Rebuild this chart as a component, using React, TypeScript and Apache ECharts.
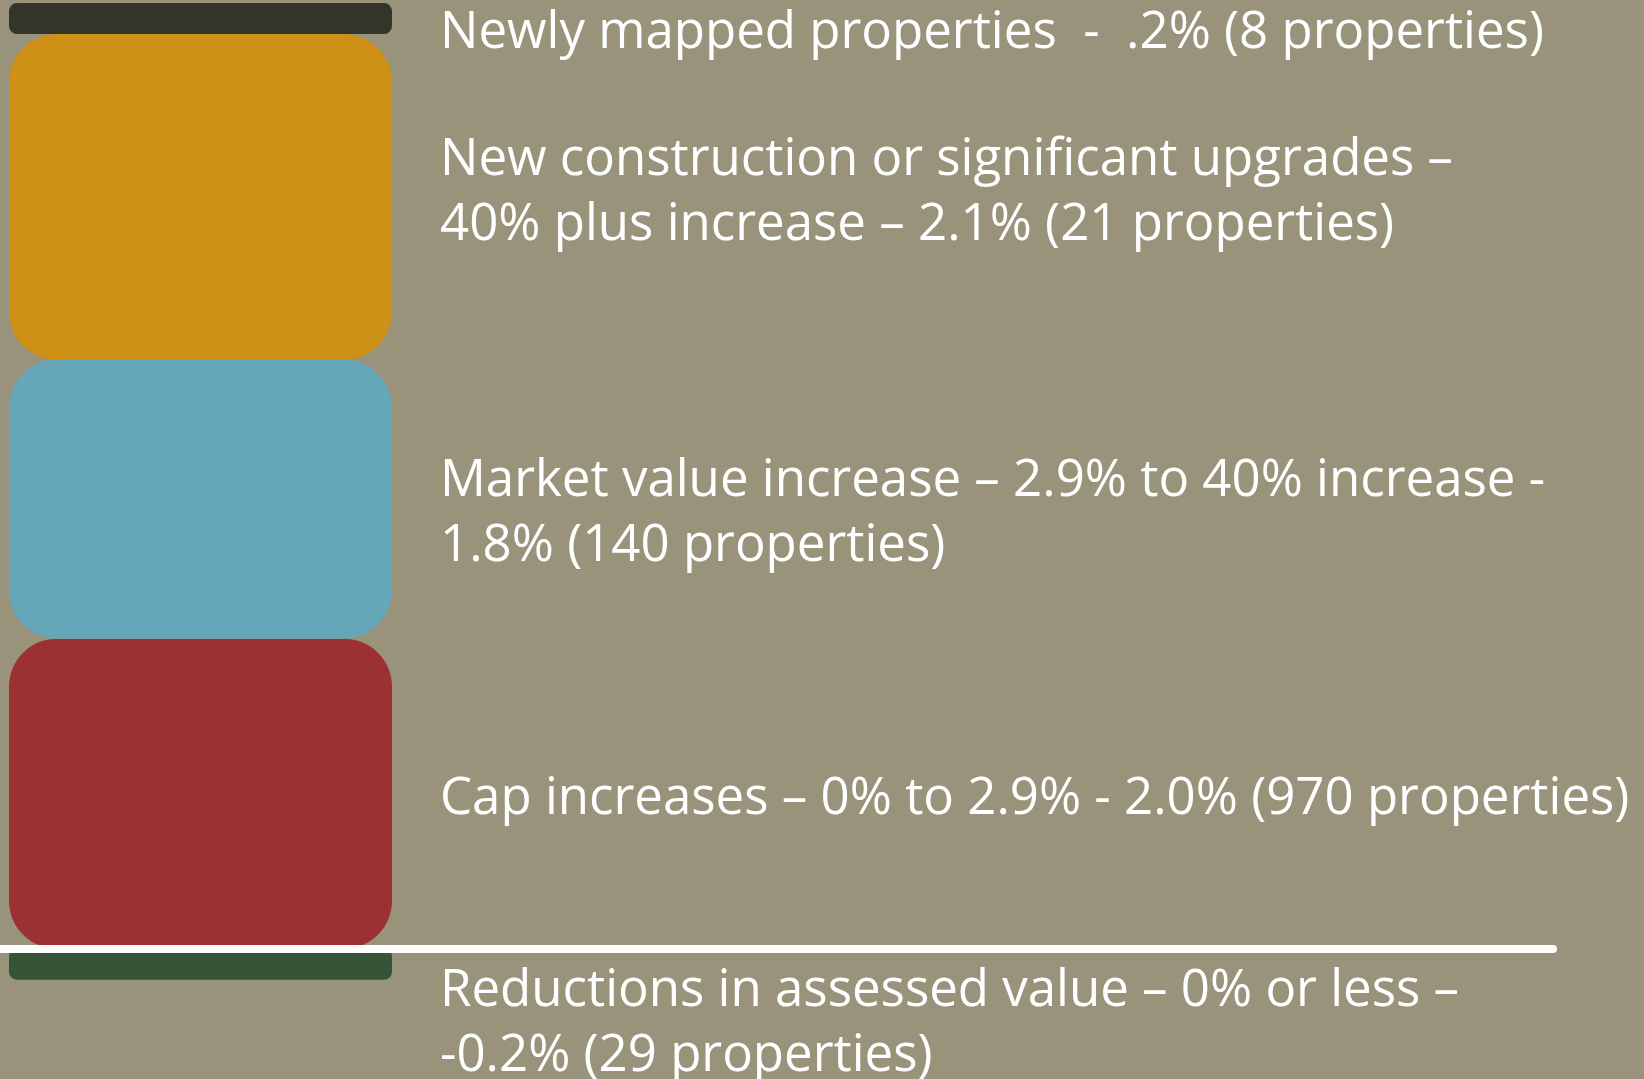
import React, { useEffect, useRef } from "react";
import * as echarts from "echarts";

// Segments of the stacked bar, bottom to top (positive), then the negative one
const segmentNames = [
  "Cap increases",
  "Market value increase",
  "New construction or significant upgrades",
  "Newly mapped properties",
  "Reductions in assessed value",
];
const percentChange = [2.0, 1.8, 2.1, 0.2, -0.2];
const propertyCounts = [970, 140, 21, 8, 29];
const segmentLabels = [
  "Cap increases – 0% to 2.9% - 2.0% (970 properties)",
  "Market value increase – 2.9% to 40% increase -\n1.8% (140 properties)",
  "New construction or significant upgrades –\n40% plus increase – 2.1% (21 properties)",
  "Newly mapped properties  -  .2% (8 properties)",
  "Reductions in assessed value – 0% or less –\n-0.2% (29 properties)",
];
const segmentColors = ["#9c3133", "#65a7b9", "#ce9015", "#33352b", "#365538"];
const segmentRadius = [48, 48, 48, 8, 8];
const labelOffsets = [
  [0, 0],
  [0, 9],
  [0, -9],
  [0, 9],
  [0, 54],
];
const labelLineHeights = [48, 65, 65, 46, 65];

const Y_MIN = -0.84;
const Y_MAX = 6.12;

export default function App() {
  const ref = useRef<HTMLDivElement>(null);

  useEffect(() => {
    document.body.style.margin = "0";
    document.body.style.background = "#98937a";
    if (!ref.current) return;
    const chart = echarts.init(ref.current, undefined, { renderer: "svg" });

    const series = segmentNames.map((name, i) => ({
      name,
      type: "bar",
      stack: "total",
      xAxisIndex: 0,
      yAxisIndex: 0,
      barWidth: "100%",
      data: [{ value: percentChange[i], count: propertyCounts[i] }],
      itemStyle: {
        color: segmentColors[i],
        borderRadius: segmentRadius[i],
      },
      label: {
        show: true,
        position: "right",
        distance: 48,
        offset: labelOffsets[i],
        formatter: () => segmentLabels[i],
        color: "#ffffff",
        fontFamily: "Open Sans",
        fontSize: 51,
        lineHeight: labelLineHeights[i],
        align: "left",
      },
      z: 2,
    }));

    chart.setOption({
      animation: false,
      backgroundColor: "#98937a",
      grid: [
        { left: 9, right: 1252, top: 0, bottom: 0 },
        { left: 0, right: 91, top: 0, bottom: 0 },
      ],
      xAxis: [
        { type: "category", gridIndex: 0, data: ["Assessment change"], show: false },
        {
          type: "category",
          gridIndex: 1,
          data: [""],
          z: 10,
          axisLine: { show: true, onZero: true, lineStyle: { color: "#ffffff", width: 8 } },
          axisTick: { show: false },
          axisLabel: { show: false },
          splitLine: { show: false },
        },
      ],
      yAxis: [
        { type: "value", gridIndex: 0, min: Y_MIN, max: Y_MAX, show: false },
        {
          type: "value",
          gridIndex: 1,
          min: Y_MIN,
          max: Y_MAX,
          axisLine: { show: false },
          axisTick: { show: false },
          axisLabel: { show: false },
          splitLine: { show: false },
        },
      ],
      series,
    });

    return () => chart.dispose();
  }, []);

  return <div ref={ref} style={{ width: 1644, height: 1079 }} />;
}
